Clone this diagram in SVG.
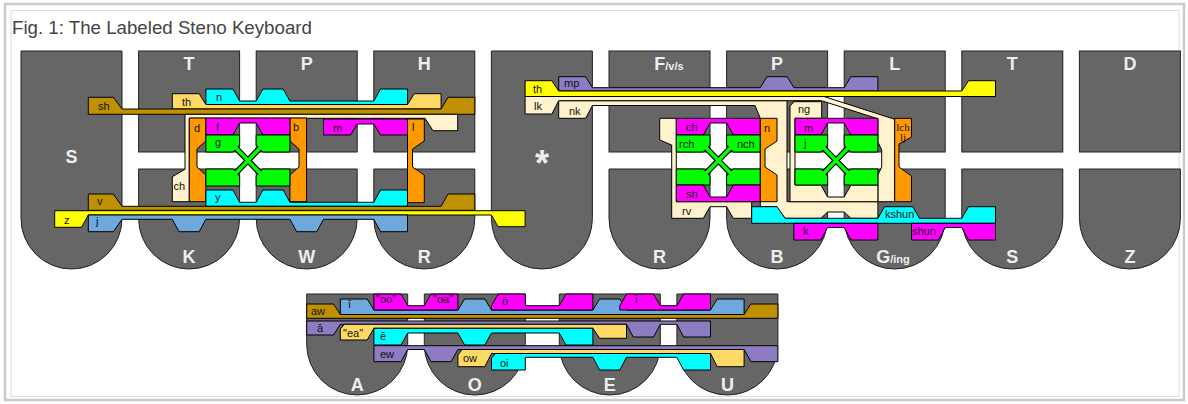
<svg xmlns="http://www.w3.org/2000/svg" width="1188" height="404" viewBox="0 0 1188 404">
<style>
.key{fill:#666;stroke:#222;stroke-width:1}
.kl{font-family:"Liberation Sans",Arial,sans-serif;font-weight:bold;font-size:18px;fill:#eee;text-anchor:middle}
.star{font-size:36px}
.b{stroke:#000;stroke-width:1;stroke-linejoin:miter}
.cy{fill:#00ffff}.mg{fill:#ff00ff}.gr{fill:#00ff00}.or{fill:#ff9900}.gd{fill:#bf9000}.lg{fill:#ffd966}.cr{fill:#fff2cc}.ye{fill:#ffff00}.bl{fill:#6fa8dc}.pu{fill:#8e7cc3}
.t{font-family:"Liberation Sans",Arial,sans-serif;font-size:11px;fill:#111}
.ts{font-family:"Liberation Serif","Times New Roman",serif;font-size:11px;fill:#111;text-anchor:middle}
.xk{stroke:#000;stroke-width:6;fill:none}
.xg{stroke:#00ff00;stroke-width:3.6;fill:none}
</style>
<rect width="1188" height="404" fill="#fff"/>
<rect x="5" y="4" width="1179" height="396" fill="none" stroke="#cacaca" stroke-width="2.5"/>
<rect x="11" y="10.5" width="1168" height="386" fill="none" stroke="#dcdcdc" stroke-width="1"/>
<text x="12" y="34" font-family="Liberation Sans, Arial, sans-serif" font-size="18.7" fill="#444">Fig. 1: The Labeled Steno Keyboard</text>

<g id="key-S"><path class="key" d="M21,51 h101 v167.5 a50.5,50.5 0 0 1 -101,0 z"/><text class="kl" x="71.5" y="163">S</text></g>
<g id="key-T"><rect class="key" x="138.6" y="51" width="101" height="101"/><text class="kl" x="189.1" y="70">T</text></g>
<g id="key-K"><path class="key" d="M138.6,169 h101 v49.5 a50.5,50.5 0 0 1 -101,0 z"/><text class="kl" x="189.1" y="263">K</text></g>
<g id="key-P"><rect class="key" x="256.2" y="51" width="101" height="101"/><text class="kl" x="306.7" y="70">P</text></g>
<g id="key-W"><path class="key" d="M256.2,169 h101 v49.5 a50.5,50.5 0 0 1 -101,0 z"/><text class="kl" x="306.7" y="263">W</text></g>
<g id="key-H"><rect class="key" x="373.8" y="51" width="101" height="101"/><text class="kl" x="424.3" y="70">H</text></g>
<g id="key-R"><path class="key" d="M373.8,169 h101 v49.5 a50.5,50.5 0 0 1 -101,0 z"/><text class="kl" x="424.3" y="263">R</text></g>
<g id="key-star"><path class="key" d="M491.4,51 h101 v167.5 a50.5,50.5 0 0 1 -101,0 z"/><text class="kl star" x="541.9" y="176">*</text></g>
<g id="key-F"><rect class="key" x="609" y="51" width="101" height="101"/><text class="kl" x="669" y="70">F<tspan font-size="11">/v/s</tspan></text></g>
<g id="key-R2"><path class="key" d="M609,169 h101 v49.5 a50.5,50.5 0 0 1 -101,0 z"/><text class="kl" x="659.5" y="263">R</text></g>
<g id="key-P2"><rect class="key" x="726.6" y="51" width="101" height="101"/><text class="kl" x="777.1" y="70">P</text></g>
<g id="key-B"><path class="key" d="M726.6,169 h101 v49.5 a50.5,50.5 0 0 1 -101,0 z"/><text class="kl" x="777.1" y="263">B</text></g>
<g id="key-L"><rect class="key" x="844.2" y="51" width="101" height="101"/><text class="kl" x="894.7" y="70">L</text></g>
<g id="key-G"><path class="key" d="M844.2,169 h101 v49.5 a50.5,50.5 0 0 1 -101,0 z"/><text class="kl" x="893" y="263">G<tspan font-size="11">/ing</tspan></text></g>
<g id="key-T2"><rect class="key" x="961.8" y="51" width="101" height="101"/><text class="kl" x="1012.3" y="70">T</text></g>
<g id="key-S2"><path class="key" d="M961.8,169 h101 v49.5 a50.5,50.5 0 0 1 -101,0 z"/><text class="kl" x="1012.3" y="263">S</text></g>
<g id="key-D"><rect class="key" x="1079.4" y="51" width="101" height="101"/><text class="kl" x="1129.9" y="70">D</text></g>
<g id="key-Z"><path class="key" d="M1079.4,169 h101 v49.5 a50.5,50.5 0 0 1 -101,0 z"/><text class="kl" x="1129.9" y="263">Z</text></g>
<g id="key-A"><path class="key" d="M306.7,294 h101 v50.5 a50.5,50.5 0 0 1 -101,0 z"/><text class="kl" x="357.2" y="391">A</text></g>
<g id="key-O"><path class="key" d="M424.3,294 h101 v50.5 a50.5,50.5 0 0 1 -101,0 z"/><text class="kl" x="474.8" y="391">O</text></g>
<g id="key-E"><path class="key" d="M559.3,294 h101 v50.5 a50.5,50.5 0 0 1 -101,0 z"/><text class="kl" x="609.8" y="391">E</text></g>
<g id="key-U"><path class="key" d="M676.9,294 h101 v50.5 a50.5,50.5 0 0 1 -101,0 z"/><text class="kl" x="727.4" y="391">U</text></g>

<g id="bars">
<!-- left side -->
<polygon class="b cy" points="205.9,89 232.9,89 239.6,101 256.2,101 262.9,89 283.2,89 289.9,101 373.8,101 380.5,89 407.5,89 407.5,104.5 205.9,104.5"/>
<polygon class="b lg" points="172.3,93.7 199.2,93.7 205.9,104.5 407.5,104.5 414.2,93.7 441.1,93.7 441.1,109 172.3,109"/>
<polygon class="b gd" points="88.3,97.3 113.3,97.3 122,109 441.1,109 448,97.3 474.8,97.3 474.8,114.3 88.3,114.3"/>
<polygon class="b cr" points="185,114.3 457.7,114.3 457.7,130.7 433,130.7 425,118.3 189.3,118.3 189.3,201.7 172.3,201.7 172.3,176.7 185,169.3"/>
<polygon class="b or" points="189.3,118 205.9,118 205.9,141 197,149 197,167 205.9,175 205.9,201.7 189.3,201.7"/>
<polygon class="b or" points="289.9,118 306.6,118 306.6,201.7 289.9,201.7 289.9,175 299,167 299,149 289.9,141"/>
<polygon class="b or" points="407.5,119 424.3,119 424.3,141 412.5,149 412.5,167 424.3,175 424.3,202.7 407.5,202.7"/>
<polygon class="b mg" points="205.9,118 289.9,118 289.9,135 263,135 256.2,123 239.6,123 232.9,135 205.9,135"/>
<polygon class="b mg" points="323.5,119 407.5,119 407.5,135 380.5,135 373.8,124 357.2,124 350.5,135 323.5,135"/>
<path class="xk" d="M236.3,148.5 L259.5,172.5 M259.5,148.5 L236.3,172.5"/>
<polygon class="b gr" points="205.9,135 239.6,135 239.6,145 233,152 205.9,152"/>
<polygon class="b gr" points="256.2,135 289.9,135 289.9,152 262.8,152 256.2,145"/>
<polygon class="b gr" points="205.9,169 233,169 239.6,176 239.6,186 205.9,186"/>
<polygon class="b gr" points="262.8,169 289.9,169 289.9,186 256.2,186 256.2,176"/>
<path class="xg" d="M235,147 L261,174 M261,147 L235,174"/>
<polygon class="b cy" points="205.9,190 232.9,190 239.6,202.3 256.2,202.3 262.9,190 283.2,190 289.9,202.3 373.8,202.3 380.5,190 407.5,190 407.5,206.3 205.9,206.3"/>
<polygon class="b gd" points="88.3,194 113.3,194 122,206.3 441.1,206.3 448,194 474.8,194 474.8,210.3 88.3,210.3"/>
<polygon class="b ye" points="54.7,210.7 525.1,210.7 525.1,226.7 498.1,226.7 491.4,215 88.3,215 81.6,227.3 54.7,227.3"/>
<polygon class="b bl" points="88.3,215 407.5,215 407.5,231.7 380.5,231.7 373.8,219.3 323.5,219.3 316.8,231.7 296.6,231.7 289.9,219.3 205.9,219.3 199.2,231.7 179,231.7 172.3,219.3 122,219.3 113.3,231.7 88.3,231.7"/>

<!-- right side -->
<polygon class="b pu" points="558.7,76.7 585.7,76.7 592.4,87.7 760.3,87.7 767,76.7 787.2,76.7 793.9,87.7 844.2,87.7 850.9,76.7 877.9,76.7 877.9,91 558.7,91"/>
<polygon class="b ye" points="525.1,80.7 551.9,80.7 558.7,91 961.8,91 968.5,80.7 995.5,80.7 995.5,96.5 525.1,96.5"/>
<polygon class="b cr" points="558.7,100.7 787,100.7 787,201.7 877.9,201.7 877.9,218.3 850.9,218.3 844.2,212 827.6,212 820.9,218.3 785,218.3 776.7,206.7 760.3,206.7 760.3,118.3 755,105.5 592.4,105.5 585.7,118.3 558.7,118.3"/>
<polygon class="b cr" points="525.1,96.5 824,96.5 894.7,119.3 894.7,201.7 877.9,201.7 877.9,175 881.7,167 881.7,150 877.9,142 877.9,118.8 821.5,100.7 558.7,100.7 551.9,114 525.1,114"/>
<polygon class="b cr" points="790,106 794,101.7 821.7,101.7 821.7,118.3 795,118.3 795,185 820.9,185 827.6,197 844.2,197 850.9,185 877.9,185 877.9,201.7 790,201.7"/>
<polygon class="b cr" points="659.7,118.3 676.3,118.3 676.3,201.7 751.7,201.7 751.7,218.3 733.3,218.3 726.6,206.7 710,206.7 703.3,218.3 671.7,218.3 671.7,145 659.7,140"/>
<polygon class="b mg" points="676.3,118.3 760.3,118.3 760.3,135 733.3,135 726.6,123 710,123 703.3,135 676.3,135"/>
<path class="xk" d="M706.7,148.5 L729.9,172.5 M729.9,148.5 L706.7,172.5"/>
<polygon class="b gr" points="676.3,135 710,135 710,145 703.4,152 676.3,152"/>
<polygon class="b gr" points="726.6,135 760.3,135 760.3,152 733.2,152 726.6,145"/>
<polygon class="b gr" points="676.3,169 703.4,169 710,176 710,185 676.3,185"/>
<polygon class="b gr" points="733.2,169 760.3,169 760.3,185 726.6,185 726.6,176"/>
<path class="xg" d="M705.4,147 L731.4,174 M731.4,147 L705.4,174"/>
<polygon class="b mg" points="676.3,185 703.3,185 710,197 726.6,197 733.3,185 760.3,185 760.3,201.7 676.3,201.7"/>
<polygon class="b or" points="760.3,118.3 777,118.3 777,141 765,149 765,167 777,175 777,201.7 760.3,201.7"/>
<polygon class="b mg" points="795,118.3 877.9,118.3 877.9,135 850.9,135 844.2,123 827.6,123 820.9,135 795,135"/>
<path class="xk" d="M824.3,148.5 L847.5,172.5 M847.5,148.5 L824.3,172.5"/>
<polygon class="b gr" points="795,135 827.6,135 827.6,145 821,152 795,152"/>
<polygon class="b gr" points="844.2,135 877.9,135 877.9,152 850.8,152 844.2,145"/>
<polygon class="b gr" points="795,169 821,169 827.6,176 827.6,185 795,185"/>
<polygon class="b gr" points="850.8,169 877.9,169 877.9,185 844.2,185 844.2,176"/>
<path class="xg" d="M823,147 L849,174 M849,147 L823,174"/>
<polygon class="b or" points="894.7,118.3 911.5,118.3 911.5,137 899,144 899,167 911.5,176 911.5,201.7 894.7,201.7"/>
<polygon class="b cy" points="751.7,206.7 777,206.7 785,218.3 877.9,218.3 884.6,206.7 912.8,206.7 919.5,218.3 961.8,218.3 968.5,206.7 995.5,206.7 995.5,223.3 751.7,223.3"/>
<polygon class="b mg" points="793.9,223.3 877.9,223.3 877.9,240 850.9,240 844.2,227.5 827.6,227.5 820.9,240 793.9,240"/>
<polygon class="b mg" points="911.5,223.3 995.5,223.3 995.5,240 968.5,240 961.8,227.5 945.2,227.5 938.5,240 911.5,240"/>

<!-- vowels -->
<polygon class="b gd" points="306.7,304 333.6,304 340.3,314.5 744.1,314.5 750.8,304 777.9,304 777.9,318.3 306.7,318.3"/>
<polygon class="b bl" points="340.3,299 367.2,299 373.9,310 457.9,310 464.6,299 484.8,299 491.5,310 592.9,310 599.6,299 619.8,299 626.5,310 710.5,310 717.2,299 744.1,299 744.1,314.5 340.3,314.5"/>
<polygon class="b mg" points="373.9,294 401,294 407.7,305.7 424.3,305.7 431,294 457.9,294 457.9,310 373.9,310"/>
<polygon class="b mg" points="491.5,310 491.5,305.7 498.2,294 525.3,294 525.3,305.7 559.3,305.7 566,294 592.9,294 592.9,310"/>
<polygon class="b mg" points="619.8,310 619.8,305.7 626.5,294 653.6,294 660.3,305.7 676.9,305.7 683.6,294 710.5,294 710.5,310"/>
<polygon class="b pu" points="306.7,321 710.5,321 710.5,337 683.6,337 676.9,324.3 660.3,324.3 653.6,337 633.2,337 626.5,324.3 340.3,324.3 333.6,335 306.7,335"/>
<polygon class="b lg" points="340.3,329 344.5,324.3 626.5,324.3 626.5,338.3 599.6,338.3 592.9,328.3 373.9,328.3 367.2,340 340.3,340"/>
<polygon class="b cy" points="373.9,328.3 592.9,328.3 592.9,345 566,345 559.3,333 491.5,333 484.8,345 464.6,345 457.9,333 407.7,333 401,345 373.9,345"/>
<polygon class="b pu" points="373.9,345.7 777.9,345.7 777.9,361.7 751,361.7 744.1,349.5 457.9,349.5 451.2,361.7 431,361.7 424.3,349.5 407.7,349.5 401,361.7 373.9,361.7"/>
<polygon class="b lg" points="457.9,355 462,349.5 744.1,349.5 744.1,366.7 717.2,366.7 710.5,353.5 491.5,353.5 484.8,366.7 457.9,366.7"/>
<polygon class="b cy" points="491.5,358 495.6,353.5 710.5,353.5 710.5,370 683.6,370 676.9,357.3 626.5,357.3 619.8,370 599.6,370 592.9,357.3 525.3,357.3 525.3,370 491.5,370"/>
</g>

<g id="labels">
<text class="t" x="98" y="110">sh</text>
<text class="t" x="182" y="106">th</text>
<text class="t" x="216" y="101">n</text>
<text class="t" x="194" y="131.5">d</text>
<text class="t" x="216" y="131">f</text>
<text class="t" x="293" y="131">b</text>
<text class="t" x="333" y="131.5">m</text>
<text class="t" x="412" y="131">l</text>
<text class="t" x="215" y="146">g</text>
<text class="t" x="173.5" y="190">ch</text>
<text class="t" x="215" y="200.5">y</text>
<text class="t" x="97" y="205">v</text>
<text class="t" x="64" y="223.5">z</text>
<text class="t" x="96" y="225">j</text>
<text class="t" x="564" y="86.5">mp</text>
<text class="t" x="533" y="93">th</text>
<text class="t" x="534" y="110">lk</text>
<text class="t" x="569" y="115">nk</text>
<text class="t" x="686" y="131">ch</text>
<text class="t" x="679" y="147.5">rch</text>
<text class="t" x="737" y="147.5">nch</text>
<text class="t" x="764" y="131.5">n</text>
<text class="t" x="798" y="113">ng</text>
<text class="t" x="804" y="131.5">m</text>
<text class="t" x="804" y="147">j</text>
<text class="t" x="686" y="198">sh</text>
<text class="t" x="682" y="215">rv</text>
<text class="t" x="803" y="235">k</text>
<text class="ts" x="903" y="130.5">lch</text>
<text class="ts" x="903" y="141">lj</text>
<text class="t" x="885" y="218">kshun</text>
<text class="t" x="912" y="235">shun</text>
<text class="t" x="311" y="315">aw</text>
<text class="t" x="348" y="308">ī</text>
<text class="t" x="376" y="303">"oo"</text>
<text class="t" x="433" y="303">"oa"</text>
<text class="t" x="502" y="305">ō</text>
<text class="t" x="635" y="303">i</text>
<text class="t" x="317" y="332">ā</text>
<text class="t" x="343" y="337">"ea"</text>
<text class="t" x="380" y="340">ē</text>
<text class="t" x="380" y="358">ew</text>
<text class="t" x="463" y="362">ow</text>
<text class="t" x="500" y="367">oi</text>
</g>
</svg>
